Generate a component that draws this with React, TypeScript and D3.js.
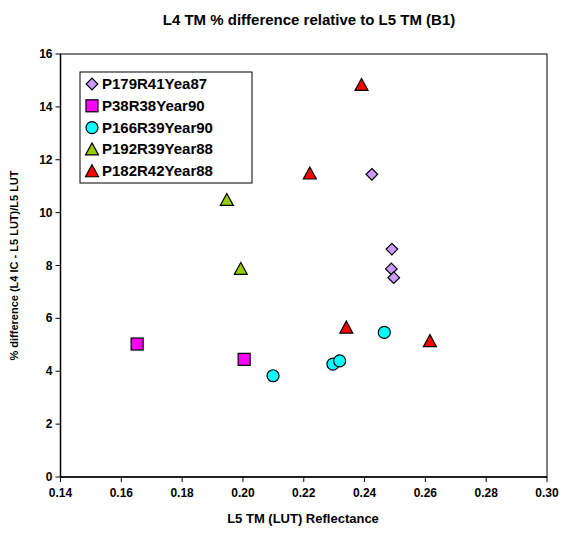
import React from "react";
import * as d3 from "d3";

const seriesNames = ["P179R41Yea87", "P38R38Year90", "P166R39Year90", "P192R39Year88", "P182R42Year88"];
const seriesShapes = ["diamond", "square", "circle", "triangle", "triangle"];
const seriesColors = ["#CC99FF", "#FF00FF", "#00FFFF", "#99CC00", "#FF0000"];

const p179x = [0.2424, 0.2490, 0.2488, 0.2496];
const p179y = [11.45, 8.62, 7.87, 7.54];
const p38x = [0.1652, 0.2004];
const p38y = [5.03, 4.45];
const p166x = [0.2099, 0.2296, 0.2318, 0.2465];
const p166y = [3.83, 4.27, 4.39, 5.47];
const p192x = [0.1947, 0.1993];
const p192y = [10.48, 7.87];
const p182x = [0.2390, 0.2220, 0.2340, 0.2615];
const p182y = [14.83, 11.48, 5.65, 5.14];

const xTicks = [0.14, 0.16, 0.18, 0.2, 0.22, 0.24, 0.26, 0.28, 0.3];
const yTicks = [0, 2, 4, 6, 8, 10, 12, 14, 16];

const allX = [p179x, p38x, p166x, p192x, p182x];
const allY = [p179y, p38y, p166y, p192y, p182y];

const W = 575, H = 535;
const L = 60.5, R = 547, T = 54, B = 477;
const FONT = "Liberation Sans, Arial, sans-serif";

function Marker({ shape, color, cx, cy }: { shape: string; color: string; cx: number; cy: number }) {
  const sw = 1.2;
  if (shape === "diamond") {
    const s = 5.8;
    return <path d={`M${cx},${cy - s}L${cx + s},${cy}L${cx},${cy + s}L${cx - s},${cy}Z`} fill={color} stroke="#000" strokeWidth={sw} />;
  }
  if (shape === "square") {
    const s = 6;
    return <rect x={cx - s} y={cy - s} width={2 * s} height={2 * s} fill={color} stroke="#000" strokeWidth={sw} />;
  }
  if (shape === "circle") {
    return <circle cx={cx} cy={cy} r={6} fill={color} stroke="#000" strokeWidth={sw} />;
  }
  const s = 6.5;
  return <path d={`M${cx},${cy - s}L${cx + s},${cy + s * 0.85}L${cx - s},${cy + s * 0.85}Z`} fill={color} stroke="#000" strokeWidth={sw} />;
}

export default function App() {
  const x = d3.scaleLinear().domain([0.14, 0.3]).range([L, R]);
  const y = d3.scaleLinear().domain([0, 16]).range([B, T]);
  const legX = 80, legY = 72, legW = 172, legH = 111, rowH = 21.8;
  return (
    <svg width={W} height={H} style={{ position: "absolute", left: 0, top: 0, background: "#fff" }} fontFamily={FONT}>
      <text x={309} y={25} textAnchor="middle" fontSize={15} fontWeight="bold">L4 TM % difference relative to L5 TM (B1)</text>
      <rect x={L} y={T} width={R - L} height={B - T} fill="none" stroke="#000" strokeWidth={1} />
      <line x1={L} y1={T} x2={L} y2={B} stroke="#000" strokeWidth={1.5} />
      <line x1={L} y1={B} x2={R} y2={B} stroke="#000" strokeWidth={1.5} />
      {yTicks.map((t) => (
        <g key={"y" + t}>
          <line x1={L - 5} x2={L} y1={y(t)} y2={y(t)} stroke="#000" />
          <text x={L - 8} y={y(t) + 4} textAnchor="end" fontSize={12} fontWeight="bold">{t}</text>
        </g>
      ))}
      {xTicks.map((t) => (
        <g key={"x" + t}>
          <line x1={x(t)} x2={x(t)} y1={B} y2={B + 5} stroke="#000" />
          <text x={x(t)} y={B + 20} textAnchor="middle" fontSize={12} fontWeight="bold">{d3.format(".2f")(t)}</text>
        </g>
      ))}
      <text x={303} y={523} textAnchor="middle" fontSize={13} fontWeight="bold">L5 TM (LUT) Reflectance</text>
      <text transform={`translate(18,${(T + B) / 2}) rotate(-90)`} textAnchor="middle" fontSize={11} fontWeight="bold">% difference (L4 IC - L5 LUT)/L5 LUT</text>
      {allX.map((xs, si) =>
        xs.map((xv, i) => (
          <Marker key={si + "-" + i} shape={seriesShapes[si]} color={seriesColors[si]} cx={x(xv)} cy={y(allY[si][i])} />
        ))
      )}
      <rect x={legX} y={legY} width={legW} height={legH} fill="#fff" stroke="#000" strokeWidth={1} />
      {seriesNames.map((n, i) => (
        <g key={n}>
          <Marker shape={seriesShapes[i]} color={seriesColors[i]} cx={legX + 12} cy={legY + 12 + i * rowH} />
          <text x={legX + 22} y={legY + 17 + i * rowH} fontSize={15} fontWeight="bold">{n}</text>
        </g>
      ))}
    </svg>
  );
}
